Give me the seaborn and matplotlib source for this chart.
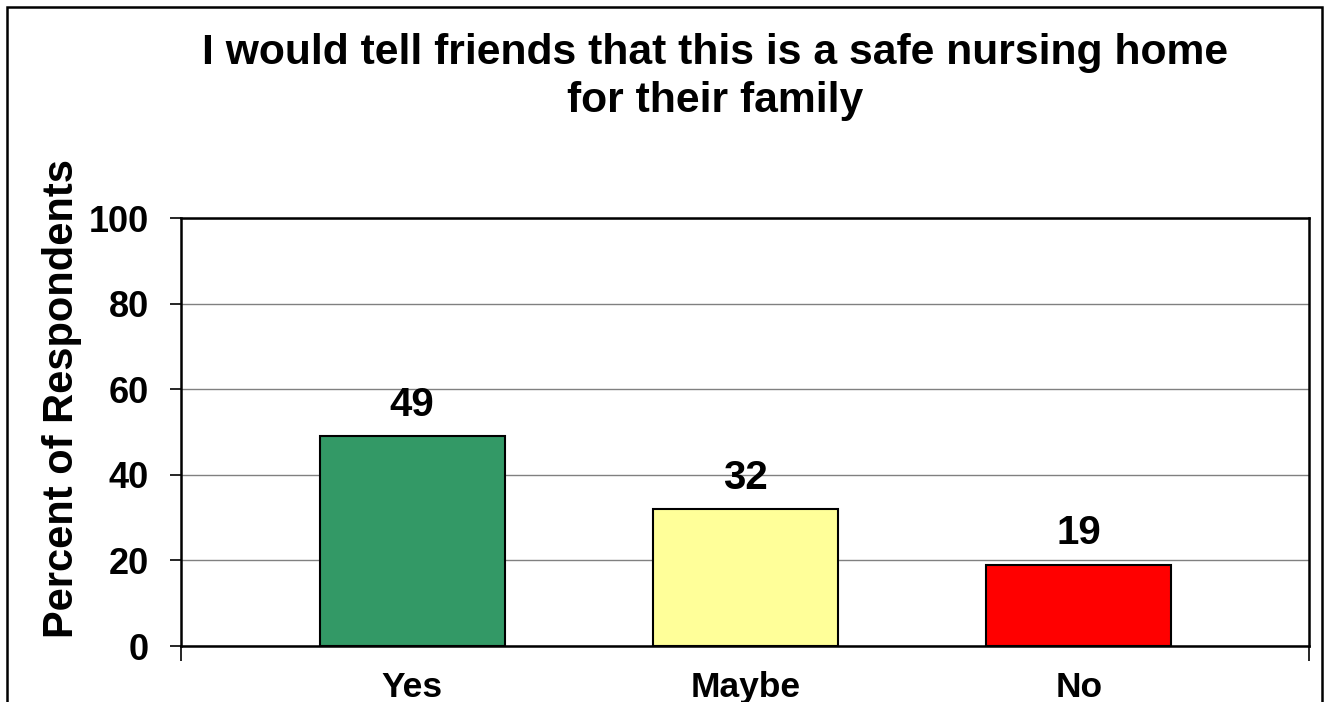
import numpy as np
import pandas as pd
import matplotlib
matplotlib.use("Agg")
import matplotlib.pyplot as plt
import seaborn as sns
from matplotlib.patches import Rectangle

# data
categories = ["Yes", "Maybe", "No"]
percents = [49, 32, 19]
bar_colors = ["#339966", "#FFFF99", "#FF0000"]
y_ticks = [0, 20, 40, 60, 80, 100]

sns.set_theme(style="white")
plt.rcParams['font.family'] = ['Liberation Sans', 'DejaVu Sans']
plt.rcParams['font.weight'] = 'bold'
plt.rcParams['text.color'] = 'black'
plt.rcParams['xtick.color'] = 'black'
plt.rcParams['ytick.color'] = 'black'
plt.rcParams['axes.labelcolor'] = 'black'

df = pd.DataFrame({"answer": categories, "percent": percents})

fig = plt.figure(figsize=(13.24, 7.02), dpi=100)
ax = fig.add_axes([181 / 1324, 1 - 646 / 702, (1309 - 181) / 1324, (646 - 218) / 702])

sns.barplot(data=df, x="answer", y="percent", hue="answer", palette=bar_colors,
            order=categories, hue_order=categories, legend=False,
            width=0.555, edgecolor="black", linewidth=1.5, saturation=1, ax=ax, zorder=3)

for cont in ax.containers:
    ax.bar_label(cont, fontsize=29, fontweight="bold", padding=9, color="black")

ax.set_xlim(-0.693, 2.69)
ax.set_ylim(0, 100)
ax.set_yticks(y_ticks)
ax.yaxis.grid(True, color="#808080", linewidth=1, zorder=0)
ax.set_axisbelow(True)

for sp in ax.spines.values():
    sp.set_visible(True)
    sp.set_color("black")
    sp.set_linewidth(1.8)

ax.tick_params(axis="y", direction="out", length=8, width=1.2, color="black",
               left=True, labelsize=26, pad=15)
ax.tick_params(axis="x", length=0, labelsize=25.5, pad=18)
ax.set_xticks([-0.693, 2.69], minor=True)
ax.tick_params(axis="x", which="minor", bottom=True, direction="out", length=11, width=1.2, color="black")
for lab in ax.get_xticklabels() + ax.get_yticklabels():
    lab.set_fontweight("bold")

ax.set_xlabel("")
ax.set_ylabel("Percent of Respondents", fontsize=30, fontweight="bold")
ax.yaxis.set_label_coords(-0.0878, 0.578)

fig.text(715 / 1324, 1 - 77 / 702, "I would tell friends that this is a safe nursing home\nfor their family",
         ha="center", va="center", fontsize=30.7, fontweight="bold", linespacing=1.27)

# outer chart frame
fig.patches.append(Rectangle((7 / 1324, -0.05), (1322 - 7) / 1324, 1 - 7 / 702 + 0.05,
                             transform=fig.transFigure, fill=False, edgecolor="black",
                             linewidth=1.8, zorder=10))

fig.savefig("out.png", dpi=100)
